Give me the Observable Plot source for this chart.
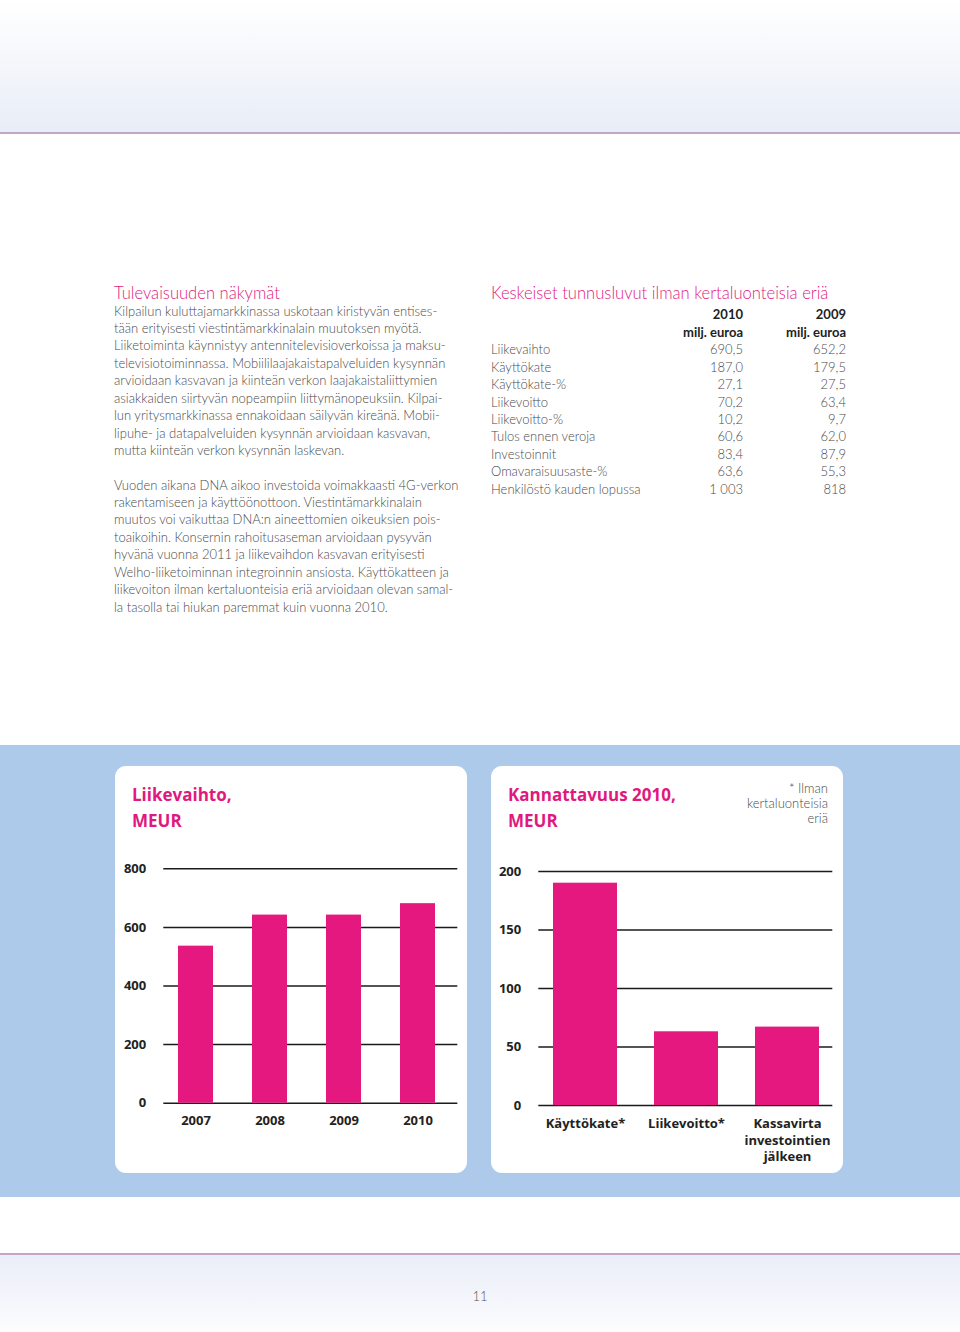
<!DOCTYPE html>
<html>
<head>
<meta charset="utf-8">
<script src="https://cdn.jsdelivr.net/npm/d3@7"></script>
<script src="https://cdn.jsdelivr.net/npm/@observablehq/plot@0.6"></script>
<style>
  html, body { margin: 0; padding: 0; background: #fff; }
  #page { position: relative; width: 960px; height: 1332px; overflow: hidden; background: #fff; font-family: "Lato", "Open Sans", sans-serif; }
  .abs { position: absolute; }
  .body { color: #4a4b4d; font-size: 13px; font-weight: 300; line-height: 17.45px; white-space: nowrap; }
  .h2 { font-size: 16.6px; font-weight: 300; line-height: 20px; color: #e0197f; white-space: nowrap; }
  .ctitle { font-family: "Open Sans", sans-serif; font-weight: 700; font-size: 17px; line-height: 26px; color: #e0197f; }
  table.kt { border-collapse: collapse; font-size: 13px; font-weight: 300; color: #4a4b4d; }
  table.kt td { padding: 0; height: 17.45px; line-height: 17.45px; white-space: nowrap; }
  table.kt td.n { text-align: right; }
  table.kt tr.hd td { font-weight: 700; color: #222; }
</style>
</head>
<body>
<div id="page"></div>
<script>
// ---------- data ----------
const years = ["2007", "2008", "2009", "2010"];
const revenue = [536, 642, 642, 681];
const revTicks = [0, 200, 400, 600, 800];

const profCats = ["Käyttökate*", "Liikevoitto*", "Kassavirta\ninvestointien\njälkeen"];
const profValues = [190, 63, 67];
const profTicks = [0, 50, 100, 150, 200];

const tableLabels = ["Liikevaihto", "Käyttökate", "Käyttökate-%", "Liikevoitto", "Liikevoitto-%", "Tulos ennen veroja", "Investoinnit", "Omavaraisuusaste-%", "Henkilöstö kauden lopussa"];
const values2010 = ["690,5", "187,0", "27,1", "70,2", "10,2", "60,6", "83,4", "63,6", "1 003"];
const values2009 = ["652,2", "179,5", "27,5", "63,4", "9,7", "62,0", "87,9", "55,3", "818"];
const tableYears = ["2010", "2009"];
const tableUnit = "milj. euroa";

const para1 = [
  "Kilpailun kuluttajamarkkinassa uskotaan kiristyvän entises-",
  "tään erityisesti viestintämarkkinalain muutoksen myötä.",
  "Liiketoiminta käynnistyy antennitelevisioverkoissa ja maksu-",
  "televisiotoiminnassa. Mobiililaajakaistapalveluiden kysynnän",
  "arvioidaan kasvavan ja kiinteän verkon laajakaistaliittymien",
  "asiakkaiden siirtyvän nopeampiin liittymänopeuksiin. Kilpai-",
  "lun yritysmarkkinassa ennakoidaan säilyvän kireänä. Mobii-",
  "lipuhe- ja datapalveluiden kysynnän arvioidaan kasvavan,",
  "mutta kiinteän verkon kysynnän laskevan."
];
const para2 = [
  "Vuoden aikana DNA aikoo investoida voimakkaasti 4G-verkon",
  "rakentamiseen ja käyttöönottoon. Viestintämarkkinalain",
  "muutos voi vaikuttaa DNA:n aineettomien oikeuksien pois-",
  "toaikoihin. Konsernin rahoitusaseman arvioidaan pysyvän",
  "hyvänä vuonna 2011 ja liikevaihdon kasvavan erityisesti",
  "Welho-liiketoiminnan integroinnin ansiosta. Käyttökatteen ja",
  "liikevoiton ilman kertaluonteisia eriä arvioidaan olevan samal-",
  "la tasolla tai hiukan paremmat kuin vuonna 2010."
];

const MAGENTA = "#e5187f";
const page = document.getElementById("page");

function div(css, html, cls) {
  const d = document.createElement("div");
  d.className = "abs" + (cls ? " " + cls : "");
  Object.assign(d.style, css);
  if (html !== undefined) d.innerHTML = html;
  page.appendChild(d);
  return d;
}

// header / footer decoration
div({left: "0px", top: "0px", width: "960px", height: "132px", background: "linear-gradient(#ffffff, #f6f8fc 40%, #e8edf7)"});
div({left: "0px", top: "132px", width: "960px", height: "2px", background: "#c3a6c6"});
div({left: "0px", top: "1253px", width: "960px", height: "2px", background: "#c3a6c6"});
div({left: "0px", top: "1255px", width: "960px", height: "77px", background: "linear-gradient(#eaeef8, #f4f6fb 60%, #fdfdfe)"});
div({left: "0px", top: "1288px", width: "960px", textAlign: "center", fontSize: "13px", fontWeight: "300", color: "#555"}, "11");

// left text column
div({left: "114px", top: "283px"}, "Tulevaisuuden näkymät", "h2");
div({left: "114px", top: "302.5px"}, para1.join("<br>"), "body");
div({left: "114px", top: "476.5px"}, para2.join("<br>"), "body");

// key figures table
div({left: "491px", top: "283px"}, "Keskeiset tunnusluvut ilman kertaluonteisia eriä", "h2");
const tbl = document.createElement("table");
tbl.className = "kt";
const tw = div({left: "491px", top: "306.3px"});
tw.appendChild(tbl);
function addRow(cells, cls) {
  const tr = document.createElement("tr");
  if (cls) tr.className = cls;
  cells.forEach((c, i) => {
    const td = document.createElement("td");
    td.textContent = c;
    if (i > 0) td.className = "n";
    td.style.width = i === 0 ? "170px" : (i === 1 ? "82px" : "103px");
    tr.appendChild(td);
  });
  tbl.appendChild(tr);
}
addRow(["", tableYears[0], tableYears[1]], "hd");
addRow(["", tableUnit, tableUnit], "hd");
tableLabels.forEach((l, i) => addRow([l, values2010[i], values2009[i]]));

// blue band and cards
div({left: "0px", top: "745px", width: "960px", height: "452px", background: "#aecaeb"});
div({left: "115px", top: "766px", width: "352px", height: "407px", background: "#fff", borderRadius: "11px"});
div({left: "491px", top: "766px", width: "352px", height: "407px", background: "#fff", borderRadius: "11px"});
div({left: "132px", top: "782px"}, "Liikevaihto,<br>MEUR", "ctitle");
div({left: "508px", top: "782px"}, "Kannattavuus 2010,<br>MEUR", "ctitle");
div({left: "700px", top: "781px", width: "128px", textAlign: "right", fontSize: "13px", fontWeight: "300", lineHeight: "15px", color: "#4a4b4d"}, "* Ilman<br>kertaluonteisia<br>eriä");

const axisStyle = {fontFamily: "Open Sans, sans-serif", fontSize: "13px", fontWeight: "700", background: "transparent", overflow: "visible"};

// chart 1: Liikevaihto
const revData = years.map((y, i) => ({year: y, value: revenue[i]}));
const c1 = Plot.plot({
  width: 352, height: 320,
  marginLeft: 48.3, marginRight: 9.7, marginTop: 18.3, marginBottom: 67.3,
  style: axisStyle,
  x: {domain: years, range: [42, 340.4], paddingInner: 0.53, paddingOuter: 0.265},
  y: {domain: [0, 800]},
  marks: [
    Plot.gridY(revTicks, {stroke: "#1b1b1b", strokeOpacity: 1, strokeWidth: 1.5}),
    Plot.barY(revData, {x: "year", y: "value", fill: MAGENTA}),
    Plot.axisY(revTicks, {tickSize: 0, tickPadding: 17.6, color: "#222", label: null}),
    Plot.axisX({tickSize: 0, tickPadding: 13, color: "#222", label: null})
  ]
});
div({left: "115px", top: "850px"}).appendChild(c1);

// chart 2: Kannattavuus 2010
const profData = profCats.map((c, i) => ({cat: c, value: profValues[i]}));
const c2 = Plot.plot({
  width: 352, height: 320,
  marginLeft: 47.3, marginRight: 10.7, marginTop: 21, marginBottom: 65,
  style: axisStyle,
  x: {domain: profCats, range: [42.8, 346.7], paddingInner: 0.368, paddingOuter: 0.184, axis: null},
  y: {domain: [0, 200]},
  marks: [
    Plot.gridY(profTicks, {stroke: "#1b1b1b", strokeOpacity: 1, strokeWidth: 1.5}),
    Plot.barY(profData, {x: "cat", y: "value", fill: MAGENTA}),
    Plot.axisY(profTicks, {tickSize: 0, tickPadding: 17.6, color: "#222", label: null}),
    Plot.text(profCats, {x: d => d, y: () => 0, text: d => d, dy: 11, lineAnchor: "top", lineHeight: 1.27, fill: "#222"})
  ]
});
div({left: "491px", top: "850px"}).appendChild(c2);
</script>
</body>
</html>
